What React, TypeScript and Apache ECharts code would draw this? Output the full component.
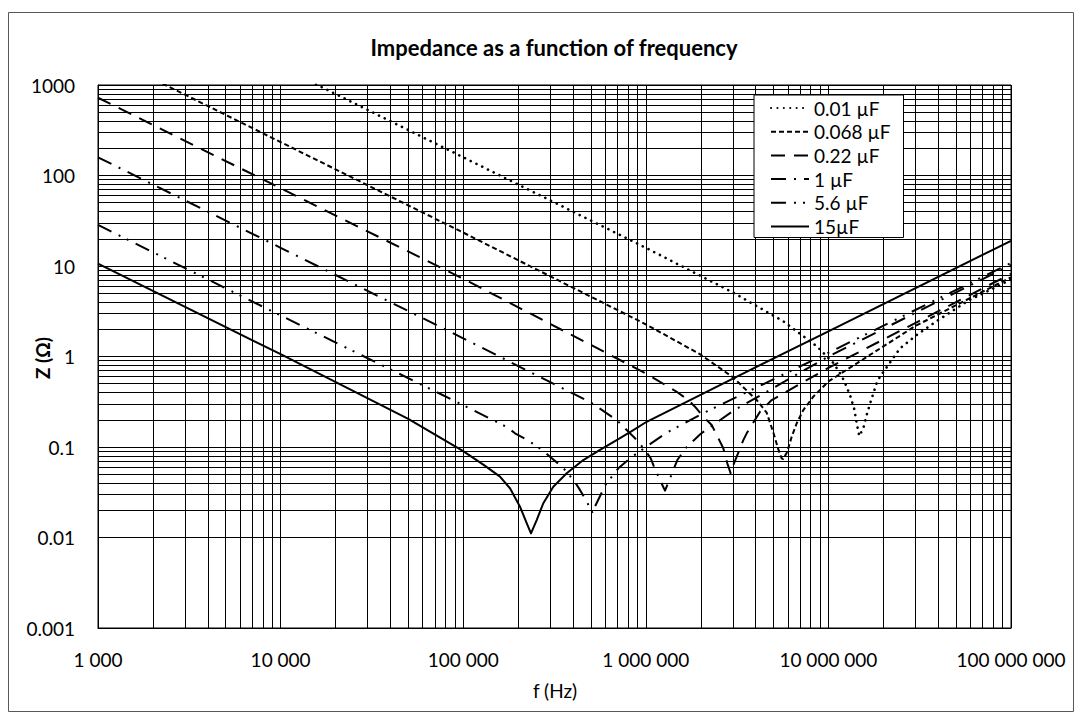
import React, { useEffect, useRef } from 'react';
import * as echarts from 'echarts';

// ---- tick labels ----
const xTickLabels = ['1 000', '10 000', '100 000', '1 000 000', '10 000 000', '100 000 000'];
const yTickLabels = ['0.001', '0.01', '0.1', '1', '10', '100', '1000'];
const xDecades = [1e3, 1e4, 1e5, 1e6, 1e7];
const yDecades = [0.001, 0.01, 0.1, 1, 10, 100];
const minorSteps = [2, 3, 4, 5, 6, 7, 8, 9];

// ---- series names ----
const capLabels = ['0.01 µF', '0.068 µF', '0.22 µF', '1 µF', '5.6 µF', '15µF'];

// ---- data: frequency (Hz) and impedance (Ohm) ----
const f001 = [1000, 15915, 100000, 1000000, 3000000, 5660000, 8630000, 10640000, 11830000, 12330000, 13130000, 13860000, 14290000, 14760000, 15530000, 16210000, 17040000, 18390000, 19170000, 22220000, 24660000, 30440000, 40000000, 58400000, 76700000, 100000000];
const z001 = [15915, 1000, 159, 15.9, 5.1, 2.45, 1.3, 0.85, 0.61, 0.51, 0.376, 0.261, 0.183, 0.132, 0.161, 0.226, 0.317, 0.51, 0.598, 0.914, 1.23, 1.73, 2.53, 4.14, 5.43, 7.1];

const f0068 = [1000, 10000, 100000, 1000000, 1980000, 3000000, 4050000, 4590000, 4990000, 5320000, 5546000, 5660000, 5957000, 6295000, 6706000, 7288000, 8267000, 10000000, 30000000, 100000000];
const z0068 = [2340, 234, 23.4, 2.27, 1.06, 0.59, 0.33, 0.24, 0.145, 0.094, 0.075, 0.0736, 0.0888, 0.13, 0.183, 0.256, 0.36, 0.53, 2.18, 7.5];

const f022 = [1000, 10000, 100000, 1000000, 1476000, 1709000, 1859000, 2065000, 2296000, 2495000, 2657000, 2795000, 2917000, 3015000, 3420000, 3569000, 4013000, 4221000, 4892000, 10000000, 100000000];
const z022 = [723, 72.3, 7.23, 0.65, 0.408, 0.33, 0.279, 0.216, 0.175, 0.125, 0.0968, 0.066, 0.0512, 0.0632, 0.119, 0.1416, 0.2075, 0.2457, 0.33, 0.75, 8.2];

const f1 = [1000, 10000, 100000, 300000, 500000, 692000, 873000, 990000, 1064000, 1109000, 1207000, 1274000, 1369000, 1488000, 1675000, 2000000, 3000000, 10000000, 100000000];
const z1 = [159, 15.9, 1.59, 0.52, 0.31, 0.199, 0.125, 0.0927, 0.075, 0.0605, 0.0414, 0.0329, 0.047, 0.0718, 0.1, 0.14, 0.25, 1.0, 10.3];

const f56 = [1000, 10000, 100000, 174400, 192200, 227300, 274600, 301000, 350500, 404400, 430600, 474700, 512000, 531700, 580700, 610800, 658700, 707000, 819300, 1000000, 1302000, 2023000, 10000000, 100000000];
const z56 = [28.4, 2.84, 0.29, 0.165, 0.1416, 0.1175, 0.091, 0.077, 0.0597, 0.0425, 0.0349, 0.0249, 0.0185, 0.0229, 0.0329, 0.0404, 0.0482, 0.0582, 0.075, 0.1, 0.144, 0.232, 1.1, 10.8];

const f15 = [1000, 10000, 50000, 100000, 130000, 159000, 180400, 204700, 222700, 235100, 252600, 274600, 311500, 368800, 454700, 561300, 692800, 854500, 1011000, 3000000, 10000000, 100000000];
const z15 = [10.6, 1.06, 0.205, 0.09, 0.063, 0.047, 0.035, 0.0219, 0.0144, 0.0111, 0.0156, 0.0239, 0.0364, 0.0512, 0.0718, 0.0927, 0.1194, 0.154, 0.19, 0.57, 1.9, 19.0];

const freqs = [f001, f0068, f022, f1, f56, f15];
const imps = [z001, z0068, z022, z1, z56, z15];

const FONT = 'Lato, "Open Sans", sans-serif';

const lineStyles: any[] = [
  { type: [0.1, 6.3], width: 2.6, cap: 'round' },
  { type: [5, 3], width: 2 },
  { type: [14, 9], width: 2 },
  { type: [15, 8, 2, 8], width: 2 },
  { type: [15, 8, 2, 7, 2, 8], width: 2 },
  { type: 'solid', width: 2 },
];

export default function App() {
  const ref = useRef<HTMLDivElement>(null);

  useEffect(() => {
    if (!ref.current) return;
    const chart = echarts.init(ref.current, undefined, { renderer: 'svg' });

    const minorX: number[] = [];
    xDecades.forEach((d) => minorSteps.forEach((k) => minorX.push(k * d)));
    const minorY: number[] = [];
    yDecades.forEach((d) => minorSteps.forEach((k) => minorY.push(+(k * d).toPrecision(6))));

    const gridSeries: any = {
      name: '__grid',
      type: 'line',
      data: [[1000, 0.001]],
      symbol: 'none',
      lineStyle: { opacity: 0 },
      silent: true,
      z: 1,
      markLine: {
        silent: true,
        symbol: ['none', 'none'],
        label: { show: false },
        lineStyle: { color: '#000', width: 1, type: 'solid' },
        emphasis: { disabled: true },
        animation: false,
        data: [...minorX.map((v) => ({ xAxis: v })), ...minorY.map((v) => ({ yAxis: v }))],
      },
    };

    const dataSeries = capLabels.map((name, i) => ({
      name,
      type: 'line',
      data: freqs[i].map((f, j) => [f, imps[i][j]]),
      symbol: 'none',
      showSymbol: false,
      clip: true,
      silent: true,
      z: 3,
      lineStyle: { color: '#000', join: 'round', ...lineStyles[i] },
      itemStyle: { color: '#000' },
      emphasis: { disabled: true },
    }));

    chart.setOption({
      animation: false,
      backgroundColor: '#fff',
      grid: {
        left: 98,
        top: 85,
        width: 913,
        height: 543,
        show: true,
        borderColor: '#000',
        borderWidth: 1,
        backgroundColor: 'transparent',
      },
      xAxis: {
        type: 'log',
        logBase: 10,
        min: 1000,
        max: 100000000,
        axisLine: { show: true, lineStyle: { color: '#000', width: 1 } },
        axisTick: { show: false },
        splitLine: { show: true, lineStyle: { color: '#000', width: 1 } },
        axisLabel: {
          margin: 22,
          fontFamily: FONT,
          fontSize: 19,
          color: '#000',
          formatter: (v: number) => xTickLabels[Math.round(Math.log10(v)) - 3] ?? '',
        },
      },
      yAxis: {
        type: 'log',
        logBase: 10,
        min: 0.001,
        max: 1000,
        axisLine: { show: true, lineStyle: { color: '#000', width: 1 } },
        axisTick: { show: false },
        splitLine: { show: true, lineStyle: { color: '#000', width: 1 } },
        axisLabel: {
          margin: 23,
          fontFamily: FONT,
          fontSize: 19,
          color: '#000',
          formatter: (v: number) => yTickLabels[Math.round(Math.log10(v)) + 3] ?? '',
        },
      },
      legend: {
        data: capLabels,
        orient: 'vertical',
        left: 754,
        top: 95,
        backgroundColor: '#fff',
        borderColor: '#000',
        borderWidth: 1,
        borderRadius: 0,
        padding: [3, 13, 1, 16],
        itemWidth: 38,
        itemHeight: 14,
        itemGap: 3.7,
        selectedMode: false,
        itemStyle: { color: 'rgba(0,0,0,0)', borderWidth: 0, opacity: 0 },
        textStyle: { fontFamily: FONT, fontSize: 19, color: '#000', lineHeight: 20 },
        z: 10,
      },
      graphic: [
        {
          type: 'rect',
          shape: { x: 8.5, y: 12.5, width: 1065, height: 699 },
          style: { fill: 'none', stroke: '#595959', lineWidth: 1 },
          silent: true,
          z: 0,
        },
        {
          type: 'text',
          x: 554,
          y: 47,
          style: {
            text: 'Impedance as a function of frequency',
            font: `bold 22px ${FONT}`,
            fill: '#000',
            textAlign: 'center',
            textVerticalAlign: 'middle',
          },
          silent: true,
        },
        {
          type: 'text',
          x: 555,
          y: 690,
          style: {
            text: 'f (Hz)',
            font: `19px ${FONT}`,
            fill: '#000',
            textAlign: 'center',
            textVerticalAlign: 'middle',
          },
          silent: true,
        },
        {
          type: 'text',
          x: 42,
          y: 358,
          rotation: Math.PI / 2,
          style: {
            text: 'Z (Ω)',
            font: `bold 19px ${FONT}`,
            fill: '#000',
            textAlign: 'center',
            textVerticalAlign: 'middle',
          },
          silent: true,
        },
      ],
      series: [gridSeries, ...dataSeries],
    });

    return () => chart.dispose();
  }, []);

  return (
    <div
      ref={ref}
      style={{ position: 'absolute', left: 0, top: 0, width: 1082, height: 717 }}
    />
  );
}
